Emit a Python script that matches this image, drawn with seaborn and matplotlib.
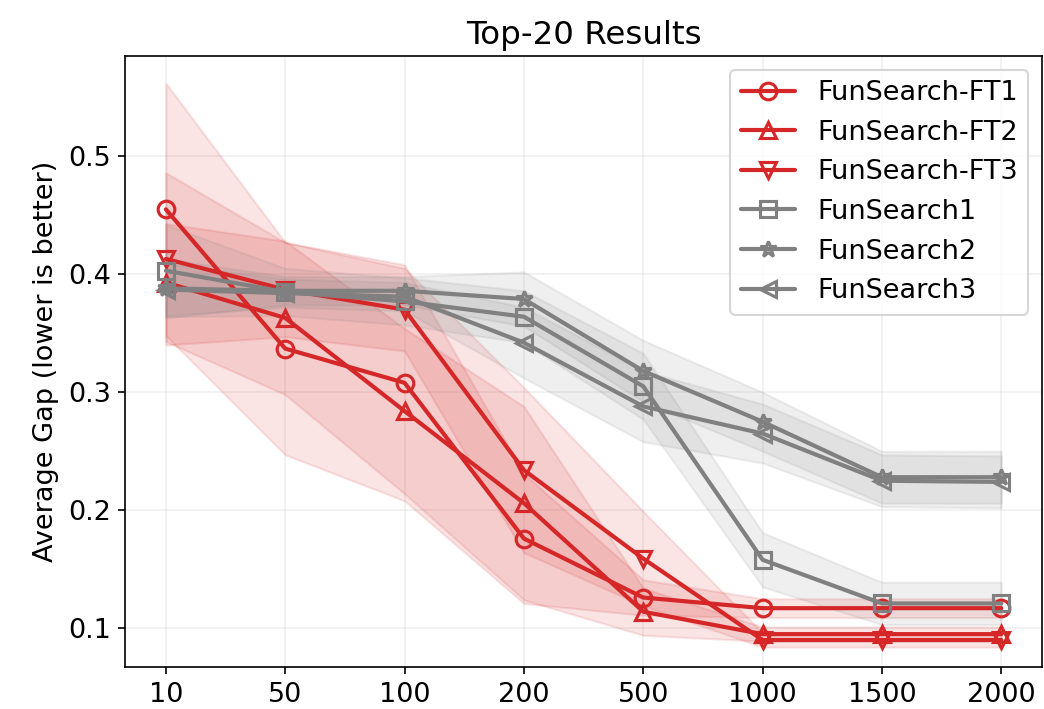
import matplotlib
matplotlib.use("Agg")
import matplotlib.pyplot as plt
import numpy as np
import pandas as pd
import seaborn as sns

sns.set_style("ticks")
plt.rcParams["font.family"] = ["DejaVu Sans"]
plt.rcParams["font.size"] = 13
for key in ["text.color", "axes.labelcolor", "xtick.color", "ytick.color", "axes.edgecolor"]:
    plt.rcParams[key] = "black"

# Данные
budgets = ["10", "50", "100", "200", "500", "1000", "1500", "2000"]

ft1 = [0.455, 0.337, 0.308, 0.176, 0.126, 0.117, 0.117, 0.117]
ft2 = [0.393, 0.363, 0.284, 0.206, 0.114, 0.095, 0.095, 0.095]
ft3 = [0.413, 0.387, 0.370, 0.234, 0.159, 0.090, 0.090, 0.090]
fs1 = [0.403, 0.385, 0.377, 0.364, 0.305, 0.158, 0.121, 0.121]
fs2 = [0.388, 0.386, 0.386, 0.379, 0.318, 0.275, 0.228, 0.228]
fs3 = [0.387, 0.384, 0.381, 0.342, 0.288, 0.265, 0.225, 0.224]

# ширина полосы (±)
ft1_std = [0.107, 0.090, 0.100, 0.055, 0.015, 0.008, 0.008, 0.008]
ft2_std = [0.050, 0.065, 0.070, 0.082, 0.020, 0.006, 0.006, 0.006]
ft3_std = [0.073, 0.040, 0.035, 0.070, 0.040, 0.006, 0.006, 0.006]
fs1_std = [0.039, 0.020, 0.020, 0.022, 0.028, 0.023, 0.018, 0.018]
fs2_std = [0.025, 0.012, 0.012, 0.023, 0.026, 0.025, 0.022, 0.022]
fs3_std = [0.022, 0.012, 0.012, 0.030, 0.030, 0.025, 0.022, 0.022]

RED = "#d62728"
GRAY = "#808080"

series = [
    ("FunSearch-FT1", ft1, ft1_std, RED, "o"),
    ("FunSearch-FT2", ft2, ft2_std, RED, "^"),
    ("FunSearch-FT3", ft3, ft3_std, RED, "v"),
    ("FunSearch1", fs1, fs1_std, GRAY, "s"),
    ("FunSearch2", fs2, fs2_std, GRAY, "*"),
    ("FunSearch3", fs3, fs3_std, GRAY, "<"),
]

pos = np.arange(len(budgets))

fig, ax = plt.subplots(figsize=(6.96, 4.727), dpi=150)

for name, mean, std, color, marker in series:
    mean = np.array(mean)
    std = np.array(std)
    df = pd.DataFrame({"x": pos, "y": mean})
    sns.lineplot(
        data=df,
        x="x",
        y="y",
        ax=ax,
        color=color,
        marker=marker,
        markersize=8,
        markerfacecolor="none",
        markeredgecolor=color,
        markeredgewidth=1.5,
        linewidth=2,
        label=name,
    )
    ax.fill_between(pos, mean - std, mean + std, color=color, alpha=0.12)

ax.set_xticks(pos)
ax.set_xticklabels(budgets)
ax.set_xlim(-0.34, len(budgets) - 1 + 0.34)
ax.set_ylim(0.067, 0.585)
ax.set_yticks([0.1, 0.2, 0.3, 0.4, 0.5])
ax.set_xlabel("")
ax.set_ylabel("Average Gap (lower is better)")
ax.set_title("Top-20 Results")
ax.grid(True, alpha=0.3)
ax.legend(loc="upper right", frameon=True)

fig.subplots_adjust(left=0.12, right=0.998, top=0.921, bottom=0.059)
fig.savefig("out.png", dpi=150)
